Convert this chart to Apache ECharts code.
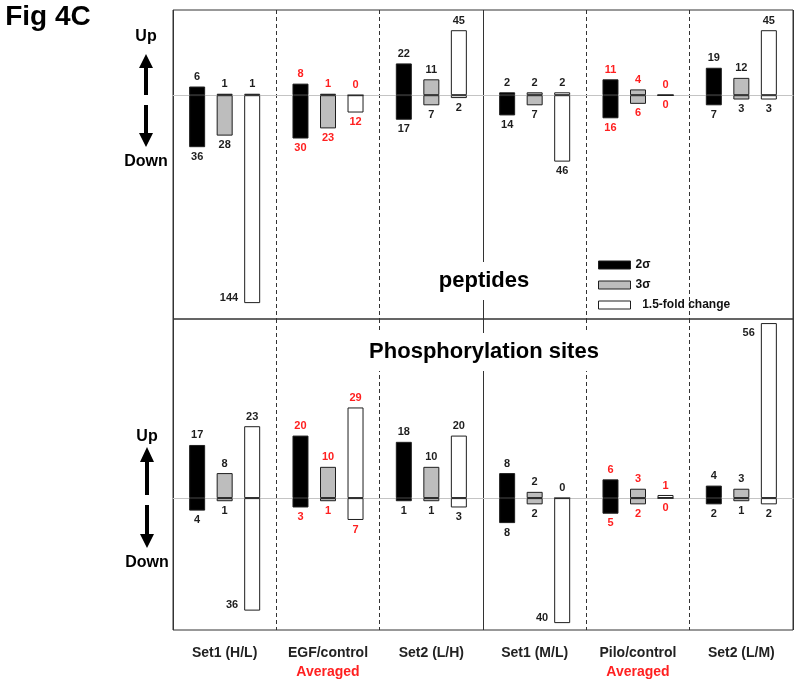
<!DOCTYPE html>
<html>
<head>
<meta charset="utf-8">
<script src="https://cdn.jsdelivr.net/npm/echarts@6/dist/echarts.min.js"></script>
<style>html,body{margin:0;padding:0;background:#fff}#c{width:800px;height:685px}</style>
</head>
<body>
<div id="c"></div>
<script>
// ---- data ----
const categories = ['Set1 (H/L)', 'EGF/control', 'Set2 (L/H)', 'Set1 (M/L)', 'Pilo/control', 'Set2 (L/M)'];
const categoryNotes = ['', 'Averaged', '', '', 'Averaged', ''];
const seriesNames = ['2σ', '3σ', '1.5-fold change'];

// peptides (up / down counts)
const peptideUp2s   = [6, 8, 22, 2, 11, 19];
const peptideDown2s = [36, 30, 17, 14, 16, 7];
const peptideUp3s   = [1, 1, 11, 2, 4, 12];
const peptideDown3s = [28, 23, 7, 7, 6, 3];
const peptideUpFold   = [1, 0, 45, 2, 0, 45];
const peptideDownFold = [144, 12, 2, 46, 0, 3];

// phosphorylation sites (up / down counts)
const phosUp2s   = [17, 20, 18, 8, 6, 4];
const phosDown2s = [4, 3, 1, 8, 5, 2];
const phosUp3s   = [8, 10, 10, 2, 3, 3];
const phosDown3s = [1, 1, 1, 2, 2, 1];
const phosUpFold   = [23, 29, 20, 0, 1, 56];
const phosDownFold = [36, 7, 3, 40, 0, 2];

// ---- styling ----
const FILL = ['#000000', '#bdbdbd', '#ffffff'];
const RED = '#ff2020', INK = '#1e1e1e';
const FONT = "'Liberation Sans', Arial, sans-serif";

function item(value, text, pos, i, side) {
  const label = {show: true, formatter: text, color: categoryNotes[i] ? RED : INK,
    fontFamily: FONT, fontWeight: 'bold', fontSize: 11, position: pos, distance: 4};
  if (side === 'bottom') Object.assign(label, {position: [-6, '100%'], align: 'right', verticalAlign: 'bottom'});
  if (side === 'top') Object.assign(label, {position: [-6, 4], align: 'right', verticalAlign: 'top'});
  return {value: value, label: label};
}

function buildPanel(p, ups, downs, sides) {
  const out = [];
  for (let k = 0; k < 3; k++) {
    const base = {type: 'bar', name: seriesNames[k], xAxisIndex: p, yAxisIndex: p, stack: 's' + p + '_' + k,
      barWidth: 16, barGap: '72%', animation: false, emphasis: {disabled: true},
      itemStyle: {color: FILL[k], borderColor: INK, borderWidth: 1}};
    out.push(Object.assign({}, base, {stackStrategy: 'positive',
      data: ups[k].map((v, i) => item(v, String(v), 'top', i, sides['u' + k + '_' + i]))}));
    out.push(Object.assign({}, base, {stackStrategy: 'negative',
      data: downs[k].map((v, i) => item(-v, String(v), 'bottom', i, sides['d' + k + '_' + i]))}));
  }
  return out;
}

const series = [].concat(
  buildPanel(0, [peptideUp2s, peptideUp3s, peptideUpFold], [peptideDown2s, peptideDown3s, peptideDownFold], {'d2_0': 'bottom'}),
  buildPanel(1, [phosUp2s, phosUp3s, phosUpFold], [phosDown2s, phosDown3s, phosDownFold], {'d2_0': 'bottom', 'd2_3': 'bottom', 'u2_5': 'top'})
);

function catAxis(g, showLabels) {
  return {
    gridIndex: g, type: 'category', data: categories,
    axisLine: {onZero: true, lineStyle: {color: '#c4c4c4', width: 1}},
    axisTick: {show: false},
    axisLabel: {
      show: showLabels, interval: 0, margin: 14,
      formatter: (v, idx) => categoryNotes[idx] ? '{a|' + v + '}\n{b|' + categoryNotes[idx] + '}' : '{a|' + v + '}',
      rich: {
        a: {fontFamily: FONT, fontWeight: 'bold', fontSize: 14, color: '#222', lineHeight: 19},
        b: {fontFamily: FONT, fontWeight: 'bold', fontSize: 14, color: RED, lineHeight: 19}
      }
    },
    splitLine: {show: true, interval: 0, lineStyle: {color: '#333', width: 1, type: [4, 3]}}
  };
}
function midAxis(g) {
  return {gridIndex: g, type: 'value', min: 0, max: 6, interval: 3,
    axisLine: {show: false}, axisTick: {show: false}, axisLabel: {show: false},
    splitLine: {show: true, lineStyle: {color: '#333', width: 1, type: 'solid'}}};
}

function arrowUp(cx, tip, base, end) {
  return {type: 'polygon', z: 100, shape: {points: [[cx, tip], [cx + 7, base], [cx + 2, base], [cx + 2, end], [cx - 2, end], [cx - 2, base], [cx - 7, base]]}, style: {fill: '#000'}};
}
function arrowDown(cx, start, base, tip) {
  return {type: 'polygon', z: 100, shape: {points: [[cx - 2, start], [cx + 2, start], [cx + 2, base], [cx + 7, base], [cx, tip], [cx - 7, base], [cx - 2, base]]}, style: {fill: '#000'}};
}
function txt(t, x, y, size, extra) {
  return {type: 'text', z: 100, style: Object.assign({text: t, x: x, y: y, fill: '#000',
    font: 'bold ' + size + 'px ' + FONT, align: 'center', verticalAlign: 'middle'}, extra || {})};
}

const option = {
  backgroundColor: '#fff',
  animation: false,
  grid: [
    {left: 173, right: 7, top: 10, height: 309, show: true, borderColor: '#333', borderWidth: 1, backgroundColor: 'transparent'},
    {left: 173, right: 7, top: 319, height: 311, show: true, borderColor: '#333', borderWidth: 1, backgroundColor: 'transparent'}
  ],
  xAxis: [catAxis(0, false), catAxis(1, true), midAxis(0), midAxis(1)],
  yAxis: [
    {gridIndex: 0, type: 'value', min: -155, max: 59, show: false, splitLine: {show: false}},
    {gridIndex: 1, type: 'value', min: -42.2, max: 57.3, show: false, splitLine: {show: false}}
  ],
  legend: {
    data: seriesNames, orient: 'vertical', left: 598, top: 259, padding: 0,
    itemWidth: 32, itemHeight: 8, itemGap: 8,
    icon: 'rect', selectedMode: false,
    itemStyle: {borderWidth: 1},
    formatter: n => n === '1.5-fold change' ? '  ' + n : n,
    textStyle: {fontFamily: FONT, fontWeight: 'bold', fontSize: 12, color: '#111'}
  },
  graphic: [
    txt('Fig 4C', 48, 17, 28),
    txt('Up', 146, 37, 16), arrowUp(146, 54, 68, 95), arrowDown(146, 105, 133, 147), txt('Down', 146, 162, 16),
    txt('Up', 147, 437, 16), arrowUp(147, 447, 462, 495), arrowDown(147, 505, 534, 548), txt('Down', 147, 563, 16),
    txt('peptides', 484, 281, 22, {backgroundColor: '#fff', padding: [10, 4, 6, 4]}),
    txt('Phosphorylation sites', 484, 352, 22, {backgroundColor: '#fff', padding: [8, 4, 8, 4]})
  ],
  series: series
};

const chart = echarts.init(document.getElementById('c'));
chart.setOption(option);
</script>
</body>
</html>
